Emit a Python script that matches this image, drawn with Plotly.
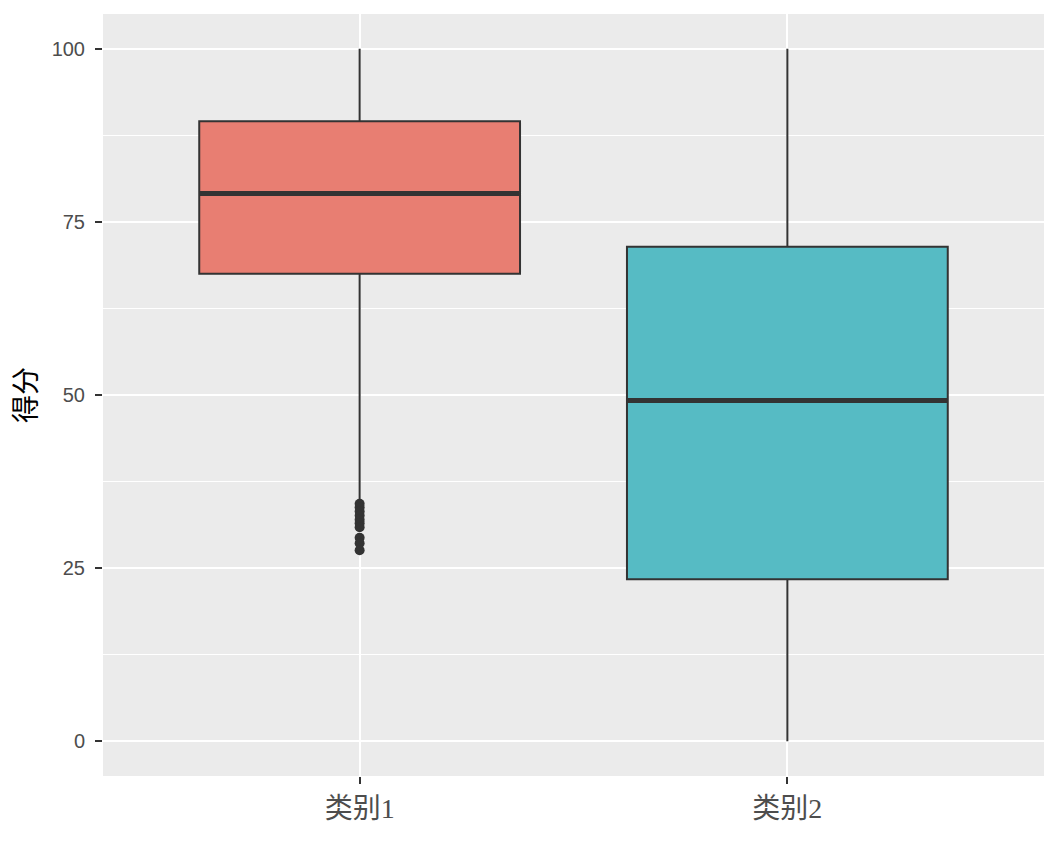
import plotly.graph_objects as go

categories = ["类别1", "类别2"]
positions = [1, 2]
q1 = [67.5, 23.4]
median = [79.1, 49.2]
q3 = [89.5, 71.4]
lower = [34.5, 0.0]
upper = [100.0, 100.0]
fills = ["#E87E72", "#56BBC4"]
outliers_cat1 = [34.3, 33.8, 33.2, 32.6, 32.0, 31.5, 30.9, 29.4, 28.6, 27.6]
y_ticks = [0, 25, 50, 75, 100]

box_w = 0.75
line_col = "#333333"

fig = go.Figure()
for i, cat in enumerate(categories):
    fig.add_trace(go.Box(
        x=[positions[i]], q1=[q1[i]], median=[median[i]], q3=[q3[i]],
        lowerfence=[lower[i]], upperfence=[upper[i]],
        width=box_w, whiskerwidth=0, fillcolor=fills[i],
        line=dict(color=line_col, width=2), boxpoints=False,
        showlegend=False, name=cat, hoverinfo="skip"))
    # thicker median line (ggplot fatten)
    fig.add_trace(go.Scatter(
        x=[positions[i] - box_w / 2, positions[i] + box_w / 2],
        y=[median[i], median[i]], mode="lines",
        line=dict(color=line_col, width=5), showlegend=False, hoverinfo="skip"))

fig.add_trace(go.Scatter(
    x=[positions[0]] * len(outliers_cat1), y=outliers_cat1, mode="markers",
    marker=dict(color=line_col, size=10), showlegend=False, hoverinfo="skip"))

serif = "Liberation Serif, Noto Sans CJK SC, serif"
fig.update_layout(
    width=1052, height=860,
    margin=dict(l=95, r=16, t=6, b=92),
    paper_bgcolor="white", plot_bgcolor="#EBEBEB",
    xaxis=dict(range=[0.4, 2.6], tickvals=positions, ticktext=categories,
               showgrid=True, gridcolor="white", gridwidth=2, zeroline=False,
               ticks="outside", ticklen=7, tickwidth=2, tickcolor="#333333",
               ticklabelstandoff=0,
               tickfont=dict(family=serif, size=28, color="#4D4D4D")),
    yaxis=dict(range=[-5, 105], tickvals=y_ticks,
               showgrid=True, gridcolor="white", gridwidth=2, zeroline=False,
               ticks="outside", ticklen=7, tickwidth=2, tickcolor="#333333",
               ticklabelstandoff=6,
               tickfont=dict(family="Liberation Sans, Arial, sans-serif", size=20, color="#4D4D4D"),
               minor=dict(dtick=12.5, tick0=12.5, showgrid=True, gridcolor="white", gridwidth=1, ticks=""),
               title=dict(text="得分", font=dict(family=serif, size=28, color="black"), standoff=6)),
)
fig.write_html("out.html")
